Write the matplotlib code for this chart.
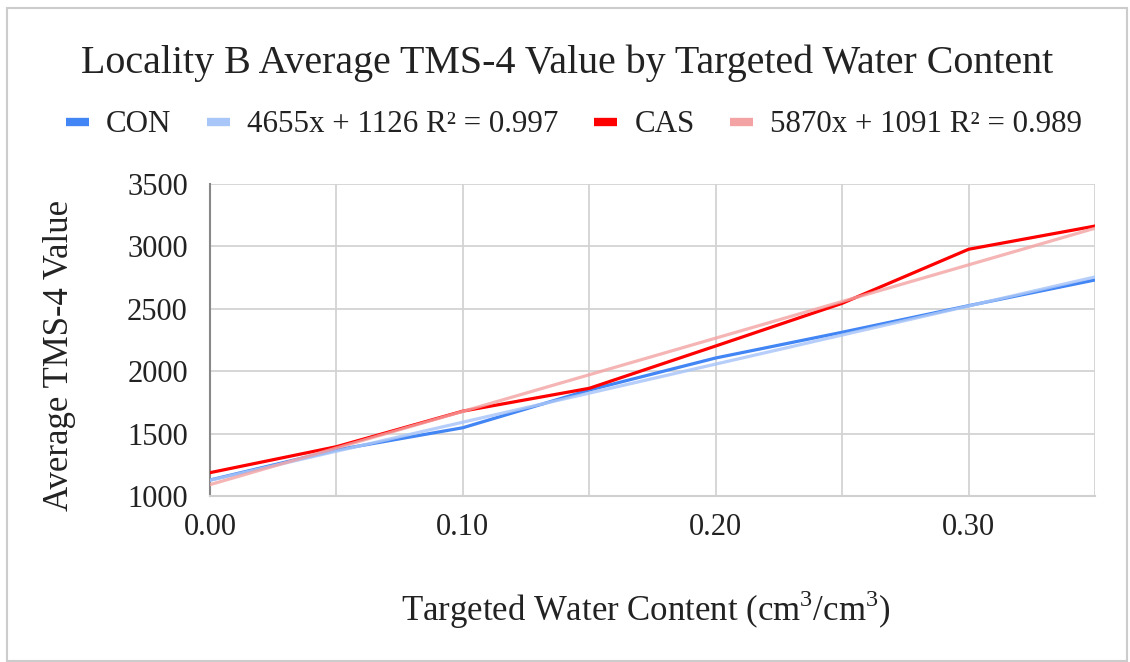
import matplotlib
matplotlib.use("Agg")
import matplotlib.pyplot as plt
from matplotlib.patches import Rectangle
from matplotlib.ticker import FormatStrFormatter

plt.rcParams['font.family'] = ['Liberation Serif', 'DejaVu Serif']
plt.rcParams['mathtext.fontset'] = 'custom'
plt.rcParams['mathtext.rm'] = 'Liberation Serif'

# water content targets and average readings
water_content = [0.00, 0.05, 0.10, 0.15, 0.20, 0.25, 0.30, 0.35]
con_values = [1128, 1369, 1547, 1849, 2106, 2312, 2525, 2731]
cas_values = [1187, 1395, 1680, 1863, 2202, 2544, 2977, 3163]

# trendline fits as shown in the legend
con_fit = (4655, 1126)
cas_fit = (5870, 1091)
con_label = "4655x + 1126 R² = 0.997"
cas_label = "5870x + 1091 R² = 0.989"

blue = "#4285F4"
red = "#FF0000"
text_col = "#222222"

fig = plt.figure(figsize=(11.3, 6.62), dpi=100)
fig.patches.append(Rectangle((7 / 1130, 1 - 661 / 662), 1120 / 1130, 653 / 662,
                             transform=fig.transFigure, fill=False,
                             edgecolor="#cccccc", linewidth=1.5))

ax = fig.add_axes([210 / 1130, 1 - 496 / 662, 885 / 1130, 312 / 662])

con_trend = [con_fit[0] * x + con_fit[1] for x in water_content]
cas_trend = [cas_fit[0] * x + cas_fit[1] for x in water_content]

l1, = ax.plot(water_content, con_values, color=blue, lw=2.3, label="CON", zorder=3)
l2, = ax.plot(water_content, con_trend, color="#a9c6f8", lw=2.3, alpha=0.85, label=con_label, zorder=3)
l3, = ax.plot(water_content, cas_values, color=red, lw=2.3, label="CAS", zorder=4)
l4, = ax.plot(water_content, cas_trend, color="#f3a3a3", lw=2.3, alpha=0.8, label=cas_label, zorder=4)

ax.set_xlim(0, 0.35)
ax.set_ylim(1000, 3500)
ax.set_xticks([0.0, 0.1, 0.2, 0.3])
ax.set_xticks([0.05, 0.15, 0.25, 0.35], minor=True)
ax.set_yticks(range(1000, 3501, 500))
ax.xaxis.set_major_formatter(FormatStrFormatter('%.2f'))
ax.grid(True, which='both', color="#d3d3d3", lw=1.3)
ax.set_axisbelow(True)
ax.tick_params(which='both', length=0, labelsize=22, colors=text_col)
ax.tick_params(axis='y', pad=16)
ax.tick_params(axis='x', pad=12)
for s in ['top', 'right']:
    ax.spines[s].set_visible(False)
ax.spines['left'].set_color("#888888")
ax.spines['left'].set_linewidth(1.5)
ax.spines['bottom'].set_color("#d0d0d0")
ax.spines['bottom'].set_linewidth(1.5)

fig.text(567 / 1130, 1 - 63 / 662, "Locality B Average TMS-4 Value by Targeted Water Content",
         ha='center', va='center', fontsize=28.8, color=text_col)
fig.text(60 / 1130, 1 - 355 / 662, "Average TMS-4 Value", rotation=90,
         ha='center', va='center', fontsize=25, color=text_col)
fig.text(646 / 1130, 1 - 610 / 662, r"Targeted Water Content (cm$^\mathrm{3}$/cm$^\mathrm{3}$)",
         ha='center', va='center', fontsize=25, color=text_col)

leg = fig.legend(handles=[l1, l2, l3, l4], loc='center', bbox_to_anchor=(574 / 1130, 1 - 125 / 662),
                 ncol=4, frameon=False, fontsize=22.3, handlelength=0.75, handletextpad=0.55,
                 columnspacing=1.15, labelcolor=text_col)
for h in leg.get_lines():
    h.set_linewidth(6)
    h.set_alpha(1)
    h.set_solid_capstyle('butt')

fig.savefig("out.png", dpi=100)
